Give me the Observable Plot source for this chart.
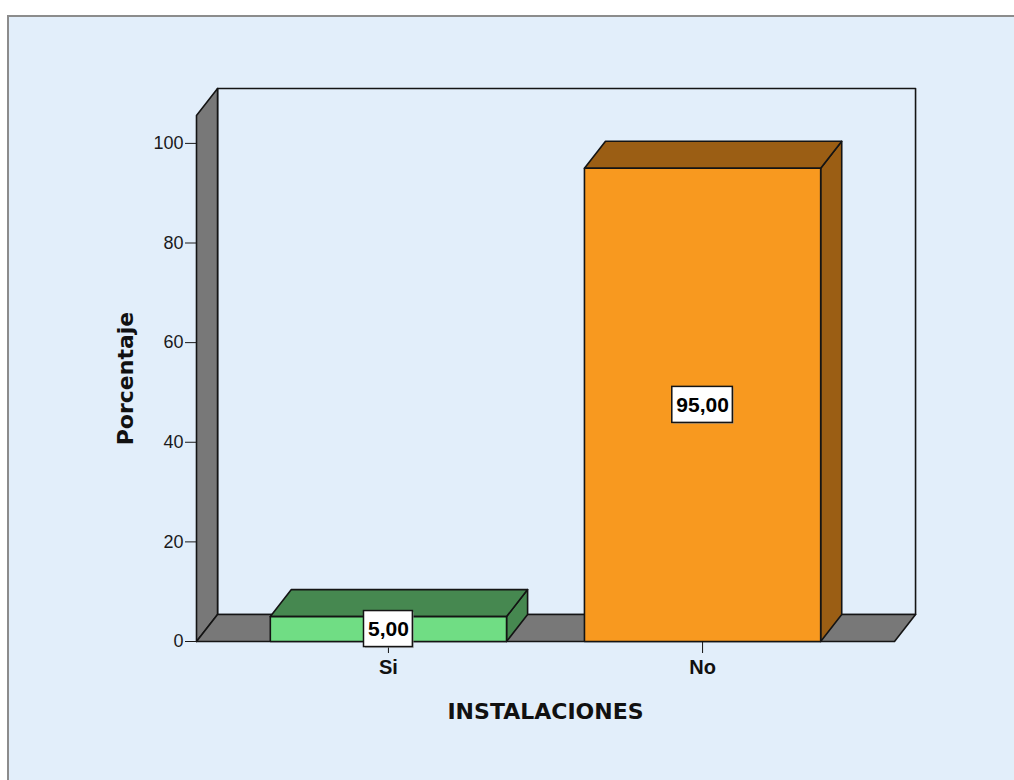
<!DOCTYPE html>
<html>
<head>
<meta charset="utf-8">
<script src="https://cdn.jsdelivr.net/npm/d3@7"></script>
<script src="https://cdn.jsdelivr.net/npm/@observablehq/plot@0.6"></script>
<style>
  html, body { margin: 0; padding: 0; background: #ffffff; overflow: hidden; width: 1014px; height: 780px; }
  #frame { position: absolute; left: 7px; top: 15px; width: 1100px; height: 900px; background: #E2EEFA;
           border-left: 2px solid #8c8c8c; border-top: 2px solid #8c8c8c; }
  #chart { position: absolute; left: 0; top: 0; }
</style>
</head>
<body>
<div id="frame"></div>
<div id="chart"></div>
<script>
// ---- data ----
const categories = ["Si", "No"];
const values = [5, 95];
const valueLabels = ["5,00", "95,00"];
const yTicks = [0, 20, 40, 60, 80, 100];
const xTitle = "INSTALACIONES";
const yTitle = "Porcentaje";

// ---- styles ----
const bg = "#E2EEFA";
const wallGray = "#787878";
const frontColors = ["#70DD84", "#F8991F"];
const darkColors = ["#468850", "#9B5E14"];

// ---- geometry (data units) ----
const yMax = 105.6;          // top of walls
const X0 = -0.611, X1 = 1.611; // floor extent around category centres 0 and 1
const HW = 0.376;            // half bar width
const DX = 0.067, DY = 5.42; // depth offset

const pts = arr => arr.map(([x, y]) => ({x, y}));
const poly = (arr, fill) => Plot.line(pts(arr), {
  x: "x", y: "y", fill, stroke: "#141414", strokeWidth: 1.6, curve: "linear-closed", strokeLinejoin: "round"
});

const marks = [];
// back wall
marks.push(poly([[X0 + DX, DY], [X1 + DX, DY], [X1 + DX, yMax + DY], [X0 + DX, yMax + DY]], bg));
// left wall
marks.push(poly([[X0, 0], [X0, yMax], [X0 + DX, yMax + DY], [X0 + DX, DY]], wallGray));
// floor
marks.push(poly([[X0, 0], [X1, 0], [X1 + DX, DY], [X0 + DX, DY]], wallGray));
// bars
categories.forEach((c, i) => {
  const v = values[i];
  marks.push(poly([[i + HW, 0], [i + HW, v], [i + HW + DX, v + DY], [i + HW + DX, DY]], darkColors[i]));
  marks.push(poly([[i - HW, v], [i + HW, v], [i + HW + DX, v + DY], [i - HW + DX, v + DY]], darkColors[i]));
  marks.push(poly([[i - HW, 0], [i + HW, 0], [i + HW, v], [i - HW, v]], frontColors[i]));
});

// axes
marks.push(Plot.axisY({ticks: yTicks, tickSize: 11, tickPadding: 2, fontSize: 18, label: null,
  fontFamily: "Liberation Sans, Arial, sans-serif", color: "#1a1a1a"}));
marks.push(Plot.axisX({ticks: [0, 1], tickFormat: i => categories[i], tickSize: 12, tickPadding: 6,
  fontSize: 20, fontWeight: "bold", label: null, fontFamily: "Liberation Sans, Arial, sans-serif", color: "#111"}));

// axis titles
marks.push(Plot.text([xTitle], {frameAnchor: "bottom", lineAnchor: "middle", textAnchor: "middle", dy: 70,
  fontSize: 22, fontWeight: "bold", fontFamily: "DejaVu Sans", fill: "#111"}));
marks.push(Plot.text([yTitle], {frameAnchor: "left", lineAnchor: "middle", textAnchor: "middle", dx: -71, rotate: -90,
  fontSize: 22, fontWeight: "bold", fontFamily: "DejaVu Sans", fill: "#111"}));

// value labels with boxes
const ctx = document.createElement("canvas").getContext("2d");
ctx.font = "bold 21px 'Liberation Sans'";
valueLabels.forEach((t, i) => {
  const w = ctx.measureText(t).width + 8;
  const mid = values[i] / 2;
  const box = {x1: () => i, x2: () => i, y1: () => mid, y2: () => mid,
    insetLeft: -w / 2, insetRight: -w / 2, insetTop: -18, insetBottom: -18};
  marks.push(Plot.rect([0], {...box, fill: "#9a9a9a", fillOpacity: 0.6, dx: 1.5, dy: 1.5}));
  marks.push(Plot.rect([0], {...box, fill: "#ffffff", stroke: "#141414", strokeWidth: 1.5}));
});
marks.push(Plot.text(valueLabels, {x: (d, i) => i, y: (d, i) => values[i] / 2, text: d => d,
  fontSize: 21, fontWeight: "bold", fontFamily: "Liberation Sans, Arial, sans-serif", fill: "#000"}));

const chart = Plot.plot({
  width: 1014,
  height: 780,
  marginLeft: 196,
  marginRight: 120,
  marginTop: 115,
  marginBottom: 139,
  x: {type: "linear", domain: [X0, X1]},
  y: {domain: [0, yMax]},
  style: {background: "transparent", overflow: "visible"},
  marks
});
document.getElementById("chart").appendChild(chart);
</script>
</body>
</html>
